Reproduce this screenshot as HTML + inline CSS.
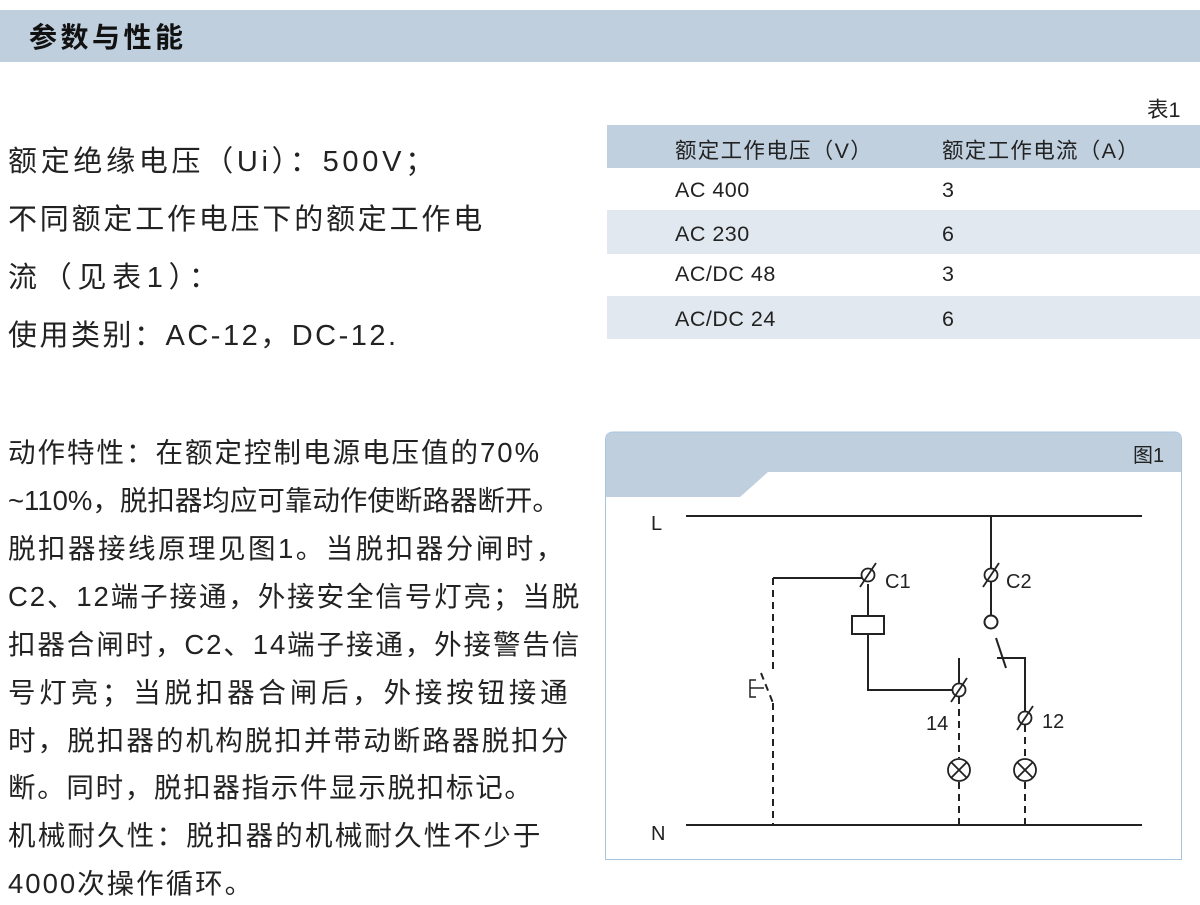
<!DOCTYPE html>
<html><head><meta charset="utf-8"><style>
body{margin:0;width:1200px;height:905px;background:#fff;position:relative;overflow:hidden;font-family:"Liberation Sans","Noto Sans CJK SC",sans-serif;color:#222}
.a{position:absolute;white-space:nowrap}
.l1{font-size:29px;left:8px}
.l2{font-size:27.5px;left:8px}
.t{font-size:21.5px}
</style></head><body>
<div class="a" style="left:0;top:10px;width:1200px;height:52px;background:#bfcfde"></div>
<div class="a" style="left:29px;top:16px;font-size:28px;font-weight:bold;color:#111;letter-spacing:3.5px">参数与性能</div>

<div class="a l1" style="top:138px;letter-spacing:3.7px">额定绝缘电压（Ui）：500V；</div>
<div class="a l1" style="top:196px;letter-spacing:2.8px">不同额定工作电压下的额定工作电</div>
<div class="a l1" style="top:254px;letter-spacing:5.7px">流（见表1）：</div>
<div class="a l1" style="top:312px;letter-spacing:2.5px">使用类别：AC-12，DC-12.</div>

<div class="a t" style="left:1147px;top:93px">表1</div>
<div class="a" style="left:607px;top:125px;width:593px;height:43px;background:#c0d0df"></div>
<div class="a" style="left:607px;top:210px;width:593px;height:44px;background:#e1e8ef"></div>
<div class="a" style="left:607px;top:296px;width:593px;height:43px;background:#e1e8ef"></div>
<div class="a t" style="left:675px;top:134px;letter-spacing:1.3px">额定工作电压（V）</div>
<div class="a t" style="left:942px;top:134px;letter-spacing:1.3px">额定工作电流（A）</div>
<div class="a t" style="left:675px;top:178px;letter-spacing:0.5px">AC 400</div><div class="a t" style="left:942px;top:178px">3</div>
<div class="a t" style="left:675px;top:222px;letter-spacing:0.5px">AC 230</div><div class="a t" style="left:942px;top:222px">6</div>
<div class="a t" style="left:675px;top:262px;letter-spacing:0.5px">AC/DC 48</div><div class="a t" style="left:942px;top:262px">3</div>
<div class="a t" style="left:675px;top:307px;letter-spacing:0.5px">AC/DC 24</div><div class="a t" style="left:942px;top:307px">6</div>

<div class="a l2" style="top:430px;letter-spacing:2px">动作特性：在额定控制电源电压值的70%</div>
<div class="a l2" style="top:478px;letter-spacing:0px">~110%，脱扣器均应可靠动作使断路器断开。</div>
<div class="a l2" style="top:526px;letter-spacing:2.5px">脱扣器接线原理见图1。当脱扣器分闸时，</div>
<div class="a l2" style="top:574px;letter-spacing:1.9px">C2、12端子接通，外接安全信号灯亮；当脱</div>
<div class="a l2" style="top:622px;letter-spacing:1.9px">扣器合闸时，C2、14端子接通，外接警告信</div>
<div class="a l2" style="top:670px;letter-spacing:3.8px">号灯亮；当脱扣器合闸后，外接按钮接通</div>
<div class="a l2" style="top:718px;letter-spacing:2.1px">时，脱扣器的机构脱扣并带动断路器脱扣分</div>
<div class="a l2" style="top:765px;letter-spacing:1.7px">断。同时，脱扣器指示件显示脱扣标记。</div>
<div class="a l2" style="top:813px;letter-spacing:2.2px">机械耐久性：脱扣器的机械耐久性不少于</div>
<div class="a l2" style="top:861px;letter-spacing:2px">4000次操作循环。</div>

<svg class="a" style="left:0;top:0" width="1200" height="905">
<path d="M605.5 440 Q605.5 432 614 432 L1174 432 Q1181.5 432 1181.5 440 L1181.5 859.5 L605.5 859.5 Z" fill="#fff" stroke="#aac4dd" stroke-width="1"/>
<path d="M606 440 Q606 432.5 614 432.5 L1174 432.5 Q1181 432.5 1181 440 L1181 472 L768 472 L740 497 L606 497 Z" fill="#bfcfde"/>
<text x="1133" y="462" font-size="20" fill="#222" font-family="Liberation Sans,Noto Sans CJK SC,sans-serif">图1</text>
<g stroke="#222" stroke-width="2" fill="none">
<line x1="686" y1="516" x2="1142" y2="516"/>
<line x1="686" y1="825" x2="1142" y2="825"/>
<line x1="991" y1="516" x2="991" y2="569"/>
<line x1="991" y1="581" x2="991" y2="615"/>
<circle cx="991" cy="622" r="6.5"/>
<line x1="996" y1="638" x2="1006" y2="668"/>
<polyline points="997,658 1025,658 1025,712"/>
<polyline points="773,578 862,578"/>
<line x1="868" y1="584" x2="868" y2="616"/>
<rect x="852" y="616" width="32" height="18"/>
<polyline points="868,634 868,690 952,690"/>
<line x1="959" y1="658" x2="959" y2="684"/>
<g stroke-dasharray="7,5">
<line x1="773" y1="578" x2="773" y2="672"/>
<line x1="773" y1="703" x2="773" y2="825"/>
<line x1="761" y1="673" x2="773" y2="703"/>
<line x1="959" y1="697" x2="959" y2="758"/>
<line x1="959" y1="782" x2="959" y2="825"/>
<line x1="1025" y1="725" x2="1025" y2="758"/>
<line x1="1025" y1="782" x2="1025" y2="825"/>
</g>
<polyline points="756,680 750,680 750,697 756,697" stroke-width="1.5"/>
<line x1="750" y1="688" x2="764" y2="688" stroke-width="1.5"/>
<g stroke-width="1.8">
<circle cx="868" cy="575" r="6.5"/><line x1="860" y1="587" x2="876" y2="563"/>
<circle cx="991" cy="575" r="6.5"/><line x1="983" y1="587" x2="999" y2="563"/>
<circle cx="959" cy="690" r="6.5"/><line x1="951" y1="702" x2="967" y2="678"/>
<circle cx="1025" cy="718" r="6.5"/><line x1="1017" y1="730" x2="1033" y2="706"/>
<circle cx="959" cy="770" r="11"/><line x1="951" y1="762" x2="967" y2="778"/><line x1="967" y1="762" x2="951" y2="778"/>
<circle cx="1025" cy="770" r="11"/><line x1="1017" y1="762" x2="1033" y2="778"/><line x1="1033" y1="762" x2="1017" y2="778"/>
</g>
</g>
<g font-family="Liberation Sans,sans-serif" font-size="20" fill="#222">
<text x="651" y="530">L</text>
<text x="651" y="840">N</text>
<text x="885" y="588">C1</text>
<text x="1006" y="588">C2</text>
<text x="926" y="730">14</text>
<text x="1042" y="728">12</text>
</g>
</svg>
</body></html>
